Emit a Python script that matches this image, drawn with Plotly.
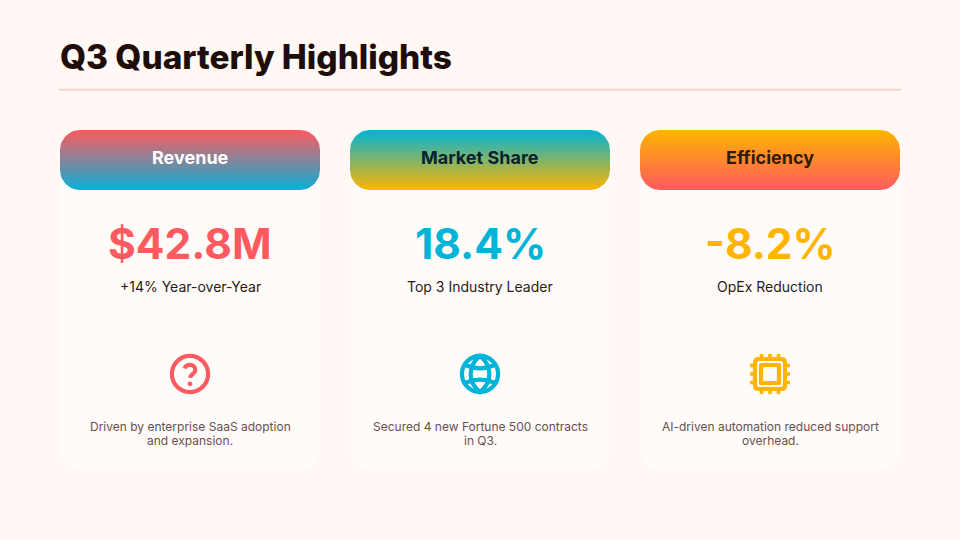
import numpy as np
import plotly.graph_objects as go

card_titles = ['Revenue', 'Market Share', 'Efficiency']
card_values = ['$42.8M', '18.4%', '-8.2%']
card_subs = ['+14% Year-over-Year', 'Top 3 Industry Leader', 'OpEx Reduction']
card_notes = [
    ['Driven by enterprise SaaS adoption', 'and expansion.'],
    ['Secured 4 new Fortune 500 contracts', 'in Q3.'],
    ['AI-driven automation reduced support', 'overhead.'],
]

RED = '#FF5A5F'
CYAN = '#00B4D8'
AMBER = '#FFB400'
accents = [RED, CYAN, AMBER]
header_stops = [(RED, '#0BAFD6'), (CYAN, AMBER), (AMBER, RED)]
title_colors = ['#FFFFFF', '#0A2230', '#2E1C06']

CARD_LEFT = [60, 350, 640]
CARD_W = 260


def rounded_rect(x0, y0, x1, y1, r):
    t = np.linspace(0, np.pi / 2, 12)
    xs = np.concatenate([x1 - r + r * np.sin(t), x1 - r + r * np.cos(t),
                         x0 + r - r * np.sin(t), x0 + r - r * np.cos(t)])
    ys = np.concatenate([y0 + r - r * np.cos(t), y1 - r + r * np.sin(t),
                         y1 - r + r * np.cos(t), y0 + r - r * np.sin(t)])
    return np.append(xs, xs[0]), np.append(ys, ys[0])


def circle_path(cx, cy, r):
    k = 0.5523 * r
    return (f'M{cx - r},{cy} C{cx - r},{cy - k} {cx - k},{cy - r} {cx},{cy - r} '
            f'C{cx + k},{cy - r} {cx + r},{cy - k} {cx + r},{cy} '
            f'C{cx + r},{cy + k} {cx + k},{cy + r} {cx},{cy + r} '
            f'C{cx - k},{cy + r} {cx - r},{cy + k} {cx - r},{cy} Z')


def rect_path(cx, cy, h, r):
    return (f'M{cx - h + r},{cy - h} H{cx + h - r} Q{cx + h},{cy - h} {cx + h},{cy - h + r} '
            f'V{cy + h - r} Q{cx + h},{cy + h} {cx + h - r},{cy + h} H{cx - h + r} '
            f'Q{cx - h},{cy + h} {cx - h},{cy + h - r} V{cy - h + r} Q{cx - h},{cy - h} {cx - h + r},{cy - h} Z')


def icon_shape(path, color, width=4.2):
    return dict(type='path', path=path, line=dict(color=color, width=width), layer='above')


def question_icon(cx, cy, color):
    hook = (f'M{cx - 5.4},{cy - 5.5} C{cx - 4.2},{cy - 10.8} {cx + 5.6},{cy - 10.4} {cx + 5.3},{cy - 3.6} '
            f'C{cx + 5.2},{cy - 0.6} {cx + 0.4},{cy + 0.2} {cx},{cy + 3.8}')
    dot = dict(type='path', path=circle_path(cx, cy + 9.8, 2.4), fillcolor=color,
               line=dict(width=0), layer='above')
    return [icon_shape(circle_path(cx, cy, 18.1), color), icon_shape(hook, color), dot]


def globe_icon(cx, cy, color):
    meridian = (f'M{cx},{cy - 18.1} C{cx - 12.5},{cy - 8} {cx - 12.5},{cy + 8} {cx},{cy + 18.1} '
                f'C{cx + 12.5},{cy + 8} {cx + 12.5},{cy - 8} {cx},{cy - 18.1} Z')
    upper = f'M{cx - 15},{cy - 9} Q{cx},{cy - 2.4} {cx + 15},{cy - 9}'
    lower = f'M{cx - 15},{cy + 9} Q{cx},{cy + 2.4} {cx + 15},{cy + 9}'
    return [icon_shape(circle_path(cx, cy, 18.1), color), icon_shape(meridian, color),
            icon_shape(upper, color), icon_shape(lower, color)]


def chip_icon(cx, cy, color):
    shapes = [icon_shape(rect_path(cx, cy, 15, 3.5), color), icon_shape(rect_path(cx, cy, 9, 0.5), color)]
    pins = ''
    for off in (-8.5, 0, 8.5):
        pins += f'M{cx + off},{cy - 20} V{cy - 15} M{cx + off},{cy + 15} V{cy + 20} '
        pins += f'M{cx - 20},{cy + off} H{cx - 15} M{cx + 15},{cy + off} H{cx + 20} '
    shapes.append(icon_shape(pins, color, 3.6))
    return shapes


icon_makers = [question_icon, globe_icon, chip_icon]

fig = go.Figure()
shapes = [dict(type='line', x0=59, x1=901, y0=89.7, y1=89.7, line=dict(color='#FFCCC8', width=2))]
annotations = [dict(x=58, y=57, text='Q3 Quarterly Highlights', xanchor='left', yanchor='middle',
                    showarrow=False, font=dict(family='Inter', size=33.4, weight=800, color='#1F0D0A'))]

for i, left in enumerate(CARD_LEFT):
    cx = left + CARD_W / 2
    xs, ys = rounded_rect(left, 130, left + CARD_W, 470, 20)
    fig.add_trace(go.Scatter(x=xs, y=ys, mode='lines', fill='toself', fillcolor='#FFFBF9',
                             line=dict(width=0), hoverinfo='skip', showlegend=False))
    xs, ys = rounded_rect(left, 130, left + CARD_W, 190, 20)
    fig.add_trace(go.Scatter(x=xs, y=ys, mode='lines', fill='toself', line=dict(width=0),
                             fillgradient=dict(type='vertical', start=130, stop=190,
                                               colorscale=[[0, header_stops[i][0]], [1, header_stops[i][1]]]),
                             hoverinfo='skip', showlegend=False))
    annotations += [
        dict(x=cx, y=157.5, text=card_titles[i], showarrow=False, yanchor='middle',
             font=dict(family='Inter', size=18, weight=700, color=title_colors[i])),
        dict(x=cx, y=243, text=card_values[i], showarrow=False, yanchor='middle',
             font=dict(family='Inter', size=42.5, weight=700, color=accents[i])),
        dict(x=cx, y=286, text=card_subs[i], showarrow=False, yanchor='middle',
             font=dict(family='Inter', size=14, color='#2A1A1A')),
        dict(x=cx, y=426.5, text=card_notes[i][0], showarrow=False, yanchor='middle',
             font=dict(family='Inter', size=12, color='#6B4F4F')),
        dict(x=cx, y=440.5, text=card_notes[i][1], showarrow=False, yanchor='middle',
             font=dict(family='Inter', size=12, color='#6B4F4F')),
    ]
    shapes += icon_makers[i](cx, 374, accents[i])

fig.update_layout(
    width=960, height=540, margin=dict(l=0, r=0, t=0, b=0),
    paper_bgcolor='#FFF8F5', plot_bgcolor='#FFF8F5', showlegend=False, hovermode=False,
    xaxis=dict(range=[0, 960], visible=False, fixedrange=True),
    yaxis=dict(range=[540, 0], visible=False, fixedrange=True),
    shapes=shapes, annotations=annotations,
)

fig.write_html('out.html', config={'displayModeBar': False},
               post_script="document.body.style.margin='0';")
